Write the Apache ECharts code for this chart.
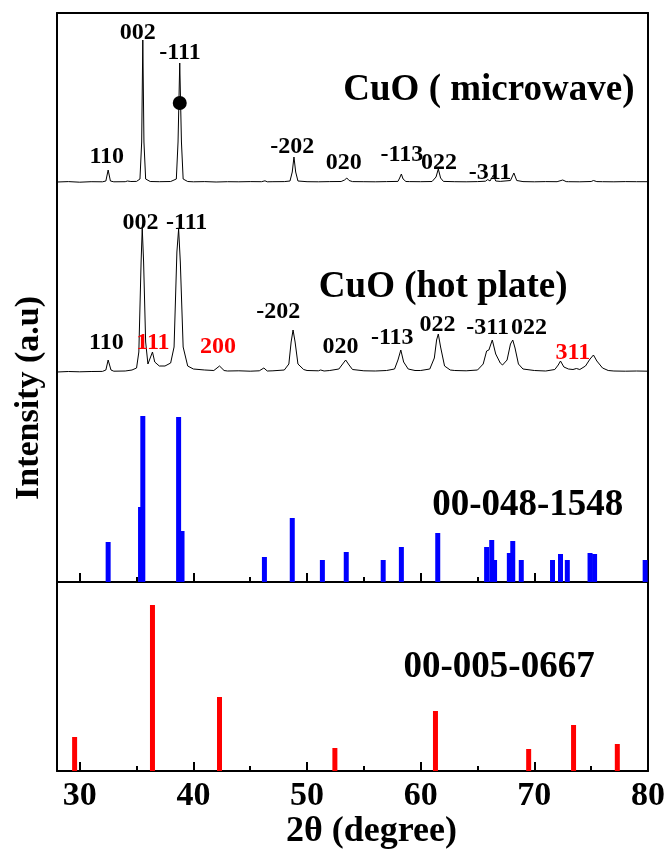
<!DOCTYPE html>
<html>
<head>
<meta charset="utf-8">
<script src="https://cdn.jsdelivr.net/npm/echarts@6/dist/echarts.min.js"></script>
<style>
	html, body { margin: 0; padding: 0; background: #fff; }
	#chart { width: 667px; height: 849px; }
</style>
</head>
<body>
<div id="chart"></div>
<script>
// CuO (microwave) pattern: [2theta, intensity]
var microwave = [
	[28,0],[29,0.4],[30,-0.2],[31,0.3],[32,0.2],[32.3,1],[32.5,12],[32.7,1],[33,0.2],[34,0.3],[34.2,1],[34.35,2.5],[34.5,0.5],
	[35,0.6],[35.3,3],[35.45,40],[35.55,142],[35.65,40],[35.8,3],[36.2,0.5],[37,0.3],[38,0.5],[38.5,3],[38.65,40],[38.8,119],
	[38.95,40],[39.1,3],[39.5,0.5],[40,0.2],[41,0.4],[42,0],[43,0.3],[44,0.2],[45,0.4],[46,0.3],[46.3,1.2],[46.5,0.2],[47,0.3],
	[48,0.4],[48.5,1],[48.7,10],[48.85,25],[49.0,10],[49.2,1],[50,0.3],[51,0.2],[52,0.4],[53,0.5],[53.3,2],[53.5,4],[53.7,1.5],
	[54,0.4],[55,0.3],[56,0.2],[57,0.4],[58,0.6],[58.15,4],[58.3,8],[58.45,3],[58.7,0.5],[59,0.4],[60,0.3],[61,0.5],[61.35,5],
	[61.55,13],[61.75,4],[62,0.6],[63,0.3],[64,0.2],[65,0.4],[65.7,0.8],[65.9,2.5],[66.1,1],[66.4,7],[66.6,1],[67,0.6],[67.9,1.5],
	[68.2,9],[68.45,1.5],[69,0.4],[70,0.2],[71,0.4],[72,0.3],[72.5,2],[72.8,0.4],[73,0.3],[74,0.2],[75,0.5],[75.2,1.5],[75.5,0.4],
	[76,0.3],[77,0.2],[78,0.4],[79,0.3],[80,0.3]
];
var microwaveDot = [[38.8, 79]];

// CuO (hot plate) pattern
var hotPlate = [
	[28,0],[29,0.5],[30,0.2],[31,0.5],[32,0.6],[32.3,2],[32.5,12],[32.75,2],[33,0.8],[34,1],[34.6,2],[35,4],[35.2,20],[35.4,110],
	[35.5,144],[35.62,110],[35.8,30],[36.0,8],[36.1,7],[36.4,20],[36.6,10],[37.0,6],[37.5,6],[38.0,9],[38.3,25],[38.55,120],
	[38.7,143],[38.85,110],[39.1,25],[39.5,6],[40,3],[41,2],[41.8,1.5],[42.3,6],[42.7,1.5],[43,1],[44,1.2],[45,0.8],[45.8,1.2],
	[46.2,4],[46.5,1],[47,1.2],[48,2],[48.4,8],[48.6,30],[48.77,42],[48.95,30],[49.2,8],[49.7,2.5],[50,1.5],[51,1.2],[51.2,2],
	[51.5,1],[52,1.5],[52.8,3],[53.2,9],[53.4,12],[53.7,7],[54,2.5],[55,1.2],[56,1],[57,1.5],[57.7,3],[58.0,12],[58.25,22],
	[58.5,10],[58.9,3],[59.5,1.5],[60,1.5],[60.8,3],[61.2,14],[61.4,32],[61.55,38],[61.75,25],[62.1,6],[62.6,2],[63,1.5],[64,1.2],
	[65,2],[65.5,8],[65.8,21],[66.0,22],[66.3,32],[66.6,18],[67.0,9],[67.2,7],[67.6,12],[67.9,28],[68.1,32],[68.3,24],[68.6,8],
	[69,3],[70,1.5],[71,1],[71.8,2.5],[72.1,7],[72.3,11],[72.6,5],[73,3],[73.4,2.5],[73.7,3.5],[74.0,2.5],[74.5,6],[74.9,13],
	[75.2,17],[75.5,11],[76,4],[76.5,1.5],[77,1],[78,0.8],[79,1],[80,0.8]
];

// reference cards
var card1548 = [
	[32.5,40],[35.35,75],[35.55,166],[38.7,165],[39.0,51],[46.25,25],[48.7,64],[51.35,22],[53.45,30],[56.7,22],[58.3,35],
	[61.5,49],[65.8,35],[66.25,42],[66.5,22],[67.8,29],[68.1,41],[68.85,22],[71.6,22],[72.3,28],[72.9,22],[74.9,29],[75.3,28],[79.75,22]
];
var card0667 = [
	[29.55,34],[36.4,166],[42.3,74],[52.45,23],[61.3,60],[69.5,22],[73.45,46],[77.3,27]
];

// peak labels: [text, 2theta, height, color]
var microwaveLabels = [
	['002',35.11,149,'#000'],['-111',38.82,129,'#000'],['110',32.38,25,'#000'],['-202',48.7,35,'#000'],
	['020',53.22,19,'#000'],['-113',58.34,27,'#000'],['022',61.6,19,'#000'],['-311',66.1,9,'#000']
];
var hotPlateLabels = [
	['002',35.35,149,'#000'],['-111',39.41,149,'#000'],['110',32.35,29,'#000'],['111',36.44,29,'#ff0000'],
	['200',42.17,25,'#ff0000'],['-202',47.47,60,'#000'],['020',52.94,25,'#000'],['-113',57.5,34,'#000'],
	['022',61.48,47,'#000'],['-311',65.89,44,'#000'],['022',69.53,44,'#000'],['311',73.39,19,'#ff0000']
];
var panelTitles = [
	['CuO ( microwave)',66.0,92,0],['CuO (hot plate)',61.98,85,1],['00-048-1548',69.42,77,2],['00-005-0667',66.9,104,3]
];

var xTicks = [30,40,50,60,70,80];
var serif = '"Liberation Serif", "Times New Roman", serif';

var grids = [
	{ top: 13, height: 183, ymin: -14, ymax: 169 },
	{ top: 196, height: 189, ymin: -13, ymax: 176 },
	{ top: 385, height: 197, ymin: 0, ymax: 197 },
	{ top: 582, height: 189, ymin: 0, ymax: 189 }
];

var chart = echarts.init(document.getElementById('chart'));

function makeLabelData(arr){
	var out = [];
	for(var i=0; i<arr.length; i++){
		out.push({
			name: arr[i][0],
			value: [arr[i][1], arr[i][2]],
			label: { color: arr[i][3] }
		});
	}
	return out;
}

function labelSeries(arr, gi, size){
	return {
		type: 'scatter',
		xAxisIndex: gi,
		yAxisIndex: gi * 2,
		symbolSize: 0,
		silent: true,
		z: 5,
		itemStyle: { opacity: 1 },
		label: {
			show: true,
			position: 'inside',
			formatter: '{b}',
			fontFamily: serif,
			fontWeight: 'bold',
			fontSize: size,
			color: '#000',
			opacity: 1
		},
		data: arr
	};
}

var gridOpt = [];
var xAxisOpt = [];
var yAxisOpt = [];
for(var g=0; g<grids.length; g++){
	gridOpt.push({ left: 57, right: 19, top: grids[g].top, height: grids[g].height, outerBoundsMode: 'none', containLabel: false });
	var x = {
		type: 'value',
		gridIndex: g,
		min: 28,
		max: 80,
		position: g == 0 ? 'top' : 'bottom',
		splitLine: { show: false },
		axisLine: { show: g != 1, onZero: false, lineStyle: { color: '#000', width: 2 } },
		axisTick: { show: g >= 2, inside: true, length: 9, lineStyle: { color: '#000', width: 2 } },
		minorTick: { show: g >= 2, splitNumber: 2, length: 5, lineStyle: { color: '#000', width: 2 } },
		axisLabel: { show: false }
	};
	if(g == 3){
		x.axisLabel = {
			show: true,
			margin: 8,
			fontFamily: serif,
			fontWeight: 'bold',
			fontSize: 34,
			color: '#000',
			formatter: function(v){ return xTicks.indexOf(v) >= 0 ? String(v) : ''; }
		};
		x.name = '2\u03b8 (degree)';
		x.nameLocation = 'middle';
		x.nameGap = 43;
		x.nameTextStyle = { fontFamily: serif, fontWeight: 'bold', fontSize: 36, color: '#000', padding: [0, 0, 0, 38] };
	}
	xAxisOpt.push(x);
	var sides = ['left', 'right'];
	for(var s=0; s<2; s++){
		yAxisOpt.push({
			type: 'value',
			gridIndex: g,
			position: sides[s],
			min: grids[g].ymin,
			max: grids[g].ymax,
			splitLine: { show: false },
			axisLine: { show: true, onZero: false, lineStyle: { color: '#000', width: 2 } },
			axisTick: { show: false },
			axisLabel: { show: false }
		});
	}
}

var options = {
	animation: false,
	backgroundColor: '#fff',
	grid: gridOpt,
	xAxis: xAxisOpt,
	yAxis: yAxisOpt,
	graphic: [{
		type: 'text',
		x: 29,
		y: 398,
		rotation: Math.PI / 2,
		style: {
			text: 'Intensity (a.u)',
			x: 0,
			y: 0,
			align: 'center',
			verticalAlign: 'middle',
			font: 'bold 34px ' + serif,
			fill: '#000'
		}
	}],
	series: [
		{
			type: 'line',
			xAxisIndex: 0,
			yAxisIndex: 0,
			data: microwave,
			showSymbol: false,
			lineStyle: { color: '#000', width: 1 }
		},
		{
			type: 'scatter',
			xAxisIndex: 0,
			yAxisIndex: 0,
			data: microwaveDot,
			symbol: 'circle',
			symbolSize: 14,
			itemStyle: { color: '#000', opacity: 1 },
			z: 4
		},
		{
			type: 'line',
			xAxisIndex: 1,
			yAxisIndex: 2,
			data: hotPlate,
			showSymbol: false,
			lineStyle: { color: '#000', width: 1 }
		},
		{
			type: 'bar',
			xAxisIndex: 2,
			yAxisIndex: 4,
			data: card1548,
			barWidth: 5,
			itemStyle: { color: '#0000ff' }
		},
		{
			type: 'bar',
			xAxisIndex: 3,
			yAxisIndex: 6,
			data: card0667,
			barWidth: 5,
			itemStyle: { color: '#ff0000' }
		},
		labelSeries(makeLabelData(microwaveLabels), 0, 24),
		labelSeries(makeLabelData(hotPlateLabels), 1, 24)
	]
};

for(var t=0; t<panelTitles.length; t++){
	options.series.push(labelSeries([{ name: panelTitles[t][0], value: [panelTitles[t][1], panelTitles[t][2]] }], panelTitles[t][3], 37));
}

chart.setOption(options);
</script>
</body>
</html>
